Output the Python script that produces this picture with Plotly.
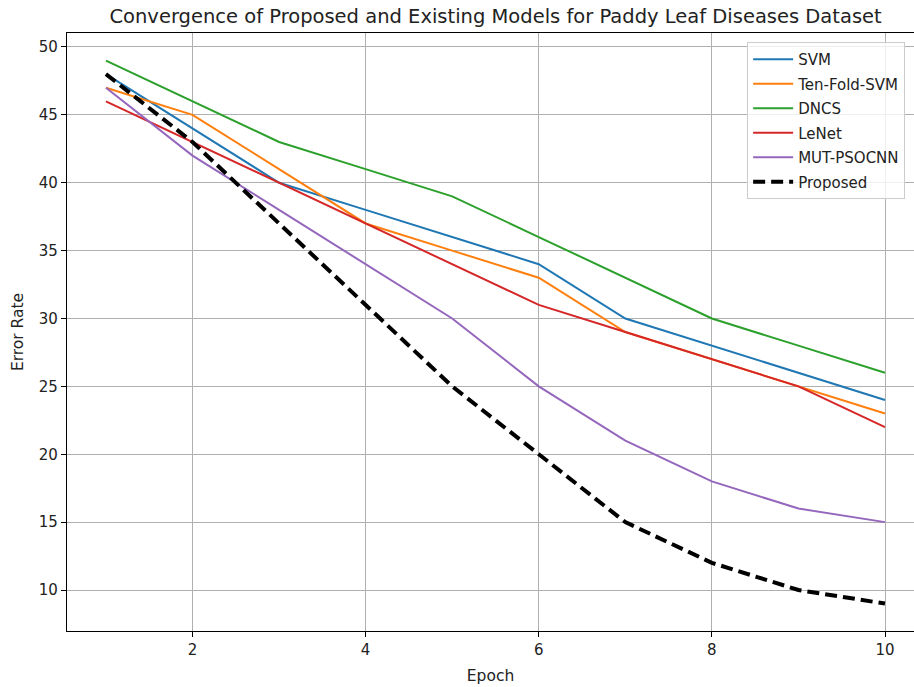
import plotly.graph_objects as go

epochs = [1, 2, 3, 4, 5, 6, 7, 8, 9, 10]
svm = [48, 44, 40, 38, 36, 34, 30, 28, 26, 24]
ten_fold_svm = [47, 45, 41, 37, 35, 33, 29, 27, 25, 23]
dncs = [49, 46, 43, 41, 39, 36, 33, 30, 28, 26]
lenet = [46, 43, 40, 37, 34, 31, 29, 27, 25, 22]
mut_psocnn = [47, 42, 38, 34, 30, 25, 21, 18, 16, 15]
proposed = [48, 43, 37, 31, 25, 20, 15, 12, 10, 9]

series = [
    ("SVM", svm, "#1f77b4", "solid", 2),
    ("Ten-Fold-SVM", ten_fold_svm, "#ff7f0e", "solid", 2),
    ("DNCS", dncs, "#2ca02c", "solid", 2),
    ("LeNet", lenet, "#d62728", "solid", 2),
    ("MUT-PSOCNN", mut_psocnn, "#9467bd", "solid", 2),
    ("Proposed", proposed, "black", "12px,6px", 4),
]

fig = go.Figure()
for name, vals, color, dash, w in series:
    fig.add_trace(go.Scatter(x=epochs, y=vals, mode="lines", name=name, legendgroup=name,
                             line=dict(color=color, width=w, dash=dash)))

font = "DejaVu Sans, sans-serif"
fig.update_layout(
    width=914, height=687,
    margin=dict(l=67, r=0, t=33, b=56),
    paper_bgcolor="white", plot_bgcolor="white",
    font=dict(family=font, size=15, color="#222"),
    title=dict(text="Convergence of Proposed and Existing Models for Paddy Leaf Diseases Dataset",
               x=0.506, xref="paper", xanchor="center", y=0.976, yref="container", yanchor="middle",
               font=dict(size=19.5, color="#222")),
    legend=dict(x=0.803, y=0.985, xanchor="left", yanchor="top",
                bgcolor="rgba(255,255,255,0.8)", bordercolor="#cccccc", borderwidth=1,
                font=dict(size=15), tracegroupgap=2, itemwidth=40),
    showlegend=True,
)
fig.update_xaxes(range=[0.55, 10.335], tickvals=[2, 4, 6, 8, 10],
                 showgrid=True, gridcolor="#b0b0b0", gridwidth=1,
                 showline=True, linecolor="black", linewidth=1.3, mirror=True,
                 ticks="outside", ticklen=5, tickcolor="black", zeroline=False,
                 tickfont=dict(size=15),
                 title=dict(text="Epoch", font=dict(size=15.5), standoff=11))
fig.update_yaxes(range=[6.98, 51.03], tickvals=[10, 15, 20, 25, 30, 35, 40, 45, 50],
                 showgrid=True, gridcolor="#b0b0b0", gridwidth=1,
                 showline=True, linecolor="black", linewidth=1.3, mirror=False,
                 ticks="outside", ticklen=5, tickcolor="black", zeroline=False,
                 tickfont=dict(size=15),
                 title=dict(text="Error Rate", font=dict(size=15.5), standoff=11))

fig.write_html("out.html")
